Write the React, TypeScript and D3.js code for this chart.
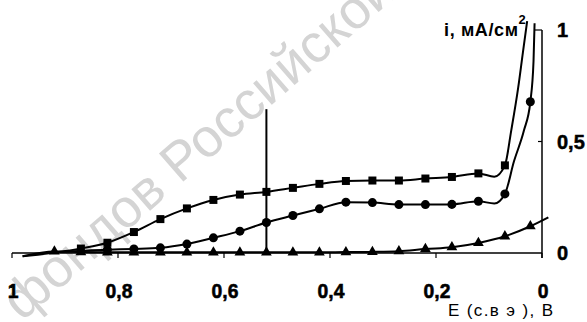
import React from 'react';
import * as d3 from 'd3';

// Potentials E (V vs. s.h.e.), measured points every 0.05 V
const potentials = [0.92, 0.87, 0.82, 0.77, 0.72, 0.67, 0.62, 0.57, 0.52, 0.47, 0.42, 0.37, 0.32, 0.27, 0.22, 0.17, 0.12, 0.07, 0.022];

// Current density i, mA/cm² (null = no marker)
const squareCurrent = [null, 0.02, 0.046, 0.094, 0.152, 0.2, 0.238, 0.262, 0.274, 0.292, 0.31, 0.323, 0.325, 0.325, 0.334, 0.341, 0.357, 0.393, null];
const circleCurrent = [null, null, 0.015, 0.018, 0.023, 0.04, 0.068, 0.098, 0.137, 0.168, 0.198, 0.228, 0.226, 0.217, 0.217, 0.218, 0.232, 0.265, 0.678];
const triangleCurrent = [0.007, 0.004, 0.003, 0.003, 0.003, 0.003, 0.003, 0.003, 0.003, 0.003, 0.003, 0.004, 0.005, 0.008, 0.018, 0.026, 0.045, 0.075, 0.12];

// Extra curve knots (no markers): [E, i]
const squareExtra = [[0.98, -0.015], [0.09, 0.342], [0.058, 0.55], [0.045, 0.74], [0.036, 0.9], [0.028, 1.04]];
const circleExtra = [[0.92, 0.004], [0.09, 0.222], [0.053, 0.41], [0.034, 0.55], [0.016, 0.86], [0.014, 1.03]];
const triangleExtra = [[0.98, -0.015], [-0.012, 0.16]];

// Vertical marker line
const markerE = 0.52;
const markerTop = 0.645;

const xTicks = [1, 0.8, 0.6, 0.4, 0.2, 0];
const xTickLabels = ['1', '0,8', '0,6', '0,4', '0,2', '0'];
const yTicks = [0, 0.5, 1];
const yTickLabels = ['0', '0,5', '1'];

const FONT = '"Liberation Sans", Arial, sans-serif';

function knots(current: (number | null)[], extra: number[][]) {
  const pts: [number, number][] = [];
  potentials.forEach((e, k) => {
    const v = current[k];
    if (v !== null) pts.push([e, v]);
  });
  extra.forEach(([e, v]) => pts.push([e, v]));
  pts.sort((a, b) => b[0] - a[0]);
  return pts;
}

export default function App() {
  const x = d3.scaleLinear().domain([1, 0]).range([12, 542]);
  const y = d3.scaleLinear().domain([0, 1]).range([253, 30]);

  const line = d3
    .line<[number, number]>()
    .x((d) => x(d[0]))
    .y((d) => y(d[1]))
    .curve(d3.curveMonotoneX);

  const series = [
    { cur: squareCurrent, extra: squareExtra, sym: d3.symbolSquare, size: 64 },
    { cur: circleCurrent, extra: circleExtra, sym: d3.symbolCircle, size: 64 },
    { cur: triangleCurrent, extra: triangleExtra, sym: d3.symbolTriangle, size: 50 },
  ];

  return (
    <svg
      width={587}
      height={322}
      style={{ position: 'absolute', left: 0, top: 0, background: '#fff' }}
    >
      <rect x={0} y={0} width={587} height={322} fill="#fff" />
      {/* watermark */}
      <text
        transform="translate(22,322) rotate(-41)"
        fontFamily={FONT}
        fontSize={54}
        fill="#d4d4d4"
      >
        фондов Российской государственной
      </text>

      {/* x axis */}
      <line x1={x(1)} x2={x(0)} y1={y(0)} y2={y(0)} stroke="#000" strokeWidth={1.5} />
      {xTicks.map((t) => (
        <line key={t} x1={x(t)} x2={x(t)} y1={y(0)} y2={y(0) + 5} stroke="#000" strokeWidth={1.2} />
      ))}
      {xTicks.map((t, k) => (
        <text
          key={'l' + t}
          transform={`translate(${x(t) + 1},298) scale(0.92,1)`}
          textAnchor="middle"
          fontFamily={FONT}
          fontWeight="bold"
          fontSize={21}
          stroke="#000"
          strokeWidth={0.6}
        >
          {xTickLabels[k]}
        </text>
      ))}

      {/* right y axis */}
      <line x1={x(0)} x2={x(0)} y1={y(0) + 5} y2={y(1)} stroke="#000" strokeWidth={1.5} />
      <line x1={x(0) - 7} x2={x(0)} y1={y(1)} y2={y(1)} stroke="#000" strokeWidth={1.2} />
      <line x1={x(0) - 4} x2={x(0)} y1={y(0.5)} y2={y(0.5)} stroke="#000" strokeWidth={1.2} />
      {yTicks.map((t, k) => (
        <text
          key={'y' + t}
          x={557}
          y={y(t)}
          dominantBaseline="central"
          fontFamily={FONT}
          fontWeight="bold"
          fontSize={20}
          stroke="#000"
          strokeWidth={0.5}
        >
          {yTickLabels[k]}
        </text>
      ))}

      {/* vertical marker */}
      <line
        x1={x(markerE)}
        x2={x(markerE)}
        y1={y(0)}
        y2={y(markerTop)}
        stroke="#000"
        strokeWidth={2}
      />

      {/* curves */}
      {series.map((s, k) => (
        <path key={'p' + k} d={line(knots(s.cur, s.extra)) || ''} fill="none" stroke="#000" strokeWidth={2} />
      ))}
      {series.map((s, k) =>
        potentials.map((e, j) => {
          const v = s.cur[j];
          if (v === null) return null;
          const path = d3.symbol().type(s.sym).size(s.size)() || '';
          return (
            <path
              key={'m' + k + '-' + j}
              d={path}
              transform={`translate(${x(e)},${y(v)})`}
              fill="#000"
            />
          );
        })
      )}

      {/* axis titles */}
      <text x={444} y={36} fontFamily={FONT} fontWeight="bold" fontSize={18}>
        <tspan textLength={74} lengthAdjust="spacing">i, мА/см</tspan>
        <tspan dy={-12} fontSize={13}>2</tspan>
      </text>
      <text x={448} y={316} fontFamily={FONT} fontSize={17} textLength={105} lengthAdjust="spacing">
        E (с.в э ), В
      </text>
    </svg>
  );
}
